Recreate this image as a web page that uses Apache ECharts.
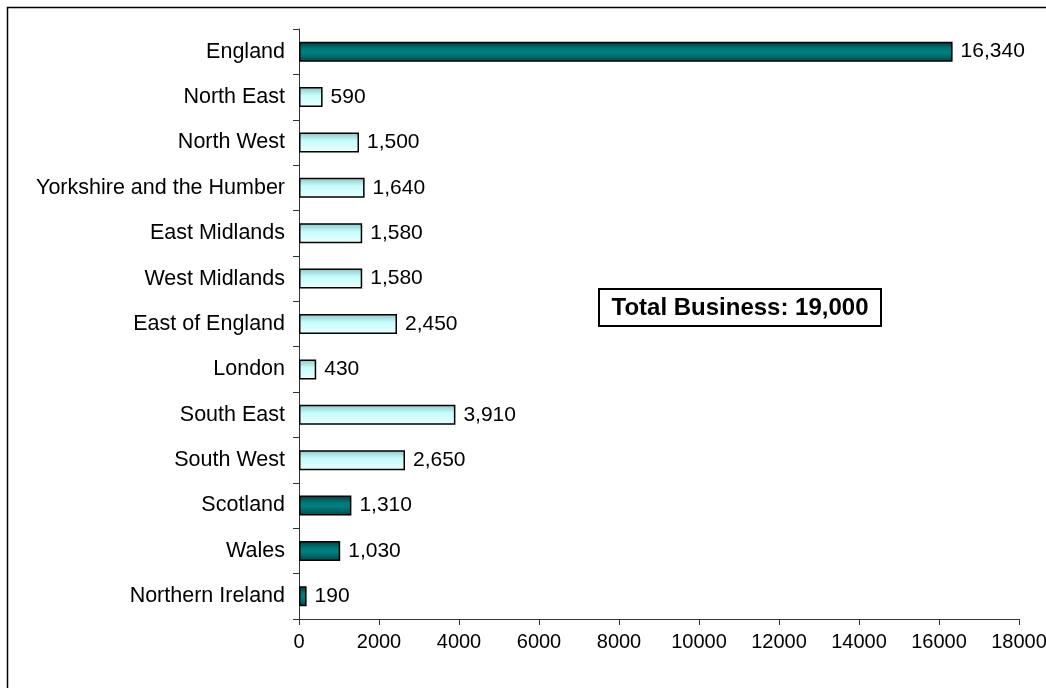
<!DOCTYPE html>
<html>
<head>
<meta charset="utf-8">
<script src="https://cdn.jsdelivr.net/npm/echarts@6/dist/echarts.min.js"></script>
<style>
  html, body { margin: 0; padding: 0; background: #fff; }
  #chart { width: 1046px; height: 688px; }
</style>
</head>
<body>
<div id="chart"></div>
<script>
// Businesses by country / English region
const categories = [
  'England', 'North East', 'North West', 'Yorkshire and the Humber',
  'East Midlands', 'West Midlands', 'East of England', 'London',
  'South East', 'South West', 'Scotland', 'Wales', 'Northern Ireland'
];
const values = [16340, 590, 1500, 1640, 1580, 1580, 2450, 430, 3910, 2650, 1310, 1030, 190];
// true = whole country, false = English region
const isCountry = [true, false, false, false, false, false, false, false, false, false, true, true, true];
const totalLabel = 'Total Business: 19,000';
const xTicks = { min: 0, max: 18000, interval: 2000 };

const FONT = '"Liberation Sans", Arial, sans-serif';

const darkFill = new echarts.graphic.LinearGradient(0, 0, 0, 1, [
  { offset: 0, color: '#003c3c' },
  { offset: 0.35, color: '#007777' },
  { offset: 0.55, color: '#008080' },
  { offset: 1, color: '#004848' }
]);
const lightFill = new echarts.graphic.LinearGradient(0, 0, 0, 1, [
  { offset: 0, color: '#8cc4c4' },
  { offset: 0.4, color: '#c6fbfb' },
  { offset: 1, color: '#eaffff' }
]);

const seriesData = values.map((v, i) => ({
  value: v,
  itemStyle: { color: isCountry[i] ? darkFill : lightFill }
}));

const chart = echarts.init(document.getElementById('chart'), null, { renderer: 'canvas' });
chart.setOption({
  backgroundColor: '#fff',
  animation: false,
  grid: {
    left: 299, right: 27, top: 29, bottom: 69,
    containLabel: false,
    outerBoundsMode: 'none'
  },
  xAxis: {
    type: 'value',
    min: xTicks.min, max: xTicks.max, interval: xTicks.interval,
    axisLine: { show: true, lineStyle: { color: '#333', width: 1 } },
    axisTick: { show: true, length: 6, lineStyle: { color: '#333' } },
    splitLine: { show: false },
    axisLabel: {
      color: '#000', fontFamily: FONT, fontSize: 20, margin: 13,
      formatter: v => String(v)
    }
  },
  yAxis: {
    type: 'category',
    data: categories,
    inverse: true,
    axisLine: { show: true, lineStyle: { color: '#333', width: 1 } },
    axisTick: { show: true, length: 6, alignWithLabel: false, lineStyle: { color: '#333' } },
    axisLabel: { color: '#000', fontFamily: FONT, fontSize: 21.5, margin: 14 }
  },
  series: [{
    type: 'bar',
    data: seriesData,
    barWidth: 20,
    itemStyle: { borderColor: '#000', borderWidth: 1.5 },
    label: {
      show: true,
      position: 'right',
      distance: 8,
      color: '#000',
      fontFamily: FONT,
      fontSize: 21,
      formatter: p => p.value.toLocaleString('en-GB')
    }
  }],
  graphic: [
    {
      type: 'rect',
      shape: { x: 7.5, y: 7.5, width: 1100, height: 750 },
      style: { fill: null, stroke: '#000', lineWidth: 1.5 },
      silent: true
    },
    {
      type: 'group',
      left: 598, top: 288,
      children: [
        {
          type: 'rect',
          shape: { x: 0, y: 0, width: 282, height: 37 },
          style: { fill: '#fff', stroke: '#000', lineWidth: 2 }
        },
        {
          type: 'text',
          x: 141, y: 19,
          style: {
            text: totalLabel,
            fill: '#000',
            font: 'bold 24px "Liberation Sans", Arial, sans-serif',
            align: 'center',
            verticalAlign: 'middle'
          }
        }
      ]
    }
  ]
});
</script>
</body>
</html>
